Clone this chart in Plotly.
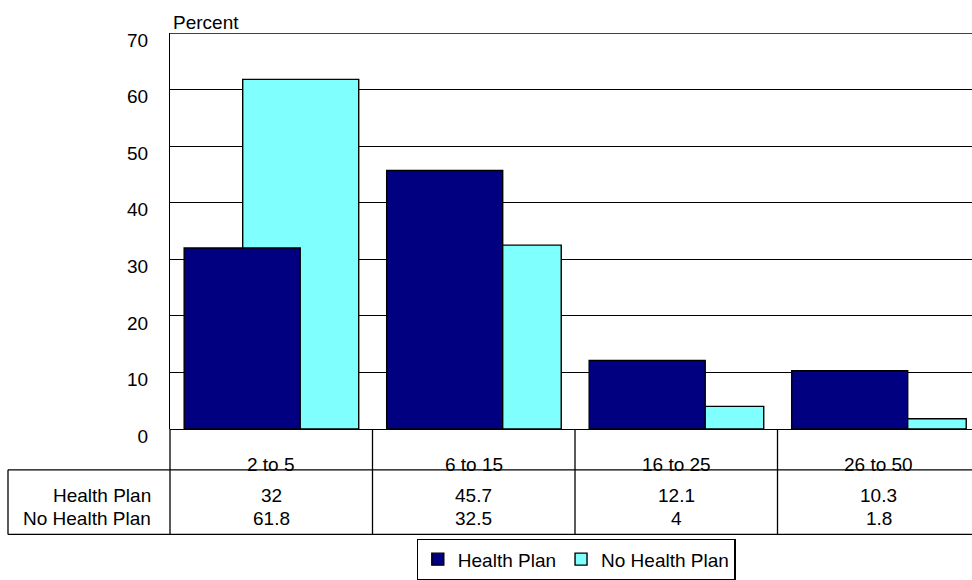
import plotly.graph_objects as go

# Data
categories = ["2 to 5", "6 to 15", "16 to 25", "26 to 50"]
health_plan = [32, 45.7, 12.1, 10.3]
no_health_plan = [61.8, 32.5, 4, 1.8]
series_names = ["Health Plan", "No Health Plan"]
y_ticks = [0, 10, 20, 30, 40, 50, 60, 70]

W, H = 972, 580
L, R, T, B = 170, 0, 33, 149          # plot area margins (px)
PW, PH = W - L - R, H - T - B
CAT_PX = 202.5                          # pixel width of one category
X_RANGE = [-0.5, -0.5 + PW / CAT_PX]

FONT = "Liberation Sans, Arial, sans-serif"
FS = 19
DARK = "#000080"
CYAN = "#80FFFF"

xs = list(range(len(categories)))


def py(p):
    """pixel row -> paper y"""
    return (H - B - p) / PH


def px(p):
    """pixel column -> paper x"""
    return (p - L) / PW


fig = go.Figure()

# back series first so the dark bars overlap it
fig.add_trace(go.Bar(
    x=xs, y=no_health_plan, name=series_names[1],
    width=0.573, offset=-0.141,
    marker=dict(color=CYAN, line=dict(color="black", width=1.4)),
    legendrank=2,
))
fig.add_trace(go.Bar(
    x=xs, y=health_plan, name=series_names[0],
    width=0.573, offset=-0.43,
    marker=dict(color=DARK, line=dict(color="black", width=1.4)),
    legendrank=1,
))

shapes = []
line = dict(color="black", width=1.3)
# top border of plot area
shapes.append(dict(type="line", xref="paper", yref="y", x0=0, x1=1, y0=70, y1=70, line=line))
# data-table grid
for yp in (472, 537):
    shapes.append(dict(type="line", xref="paper", yref="paper",
                       x0=px(8), x1=1, y0=py(yp), y1=py(yp), line=line))
shapes.append(dict(type="line", xref="paper", yref="paper",
                   x0=px(8), x1=px(8), y0=py(472), y1=py(537), line=line))
shapes.append(dict(type="line", xref="paper", yref="paper",
                   x0=0, x1=0, y0=0, y1=py(537), line=line))
for i in range(len(categories) - 1):
    shapes.append(dict(type="line", xref="x", yref="paper",
                       x0=i + 0.5, x1=i + 0.5, y0=0, y1=py(537), line=line))

annotations = []
font = dict(family=FONT, size=FS, color="black")
annotations.append(dict(text="Percent", xref="paper", yref="paper",
                        x=px(171), y=py(22), xanchor="left", yanchor="middle",
                        showarrow=False, font=font))
for i, cat in enumerate(categories):
    annotations.append(dict(text=cat, xref="x", yref="paper", x=i, y=py(467),
                            xanchor="center", yanchor="middle", showarrow=False, font=font))
    annotations.append(dict(text=f"{health_plan[i]:g}", xref="x", yref="paper", x=i, y=py(498),
                            xanchor="center", yanchor="middle", showarrow=False, font=font))
    annotations.append(dict(text=f"{no_health_plan[i]:g}", xref="x", yref="paper", x=i, y=py(521),
                            xanchor="center", yanchor="middle", showarrow=False, font=font))
for name, yp in zip(series_names, (498, 521)):
    annotations.append(dict(text=name, xref="paper", yref="paper", x=px(153), y=py(yp),
                            xanchor="right", yanchor="middle", showarrow=False, font=font))

fig.update_layout(
    width=W, height=H,
    margin=dict(l=L, r=R, t=T, b=B, pad=0),
    paper_bgcolor="white", plot_bgcolor="white",
    barmode="overlay",
    font=font,
    showlegend=True,
    legend=dict(
        orientation="h", x=px(576), y=py(542), xanchor="center", yanchor="top",
        bordercolor="black", borderwidth=1.3, bgcolor="white",
        font=dict(family=FONT, size=FS, color="black"),
        itemwidth=30, tracegroupgap=0,
    ),
    xaxis=dict(range=X_RANGE, showticklabels=False, showgrid=False, zeroline=False,
               showline=False, ticks=""),
    yaxis=dict(range=[0, 70], tickvals=y_ticks, showgrid=True, gridcolor="black", gridwidth=1,
               zeroline=True, zerolinecolor="black", zerolinewidth=1.3,
               showline=True, linecolor="black", linewidth=1.3,
               ticks="", ticklabelstandoff=17, ticklabelshift=7,
               tickfont=dict(family=FONT, size=FS, color="black")),
    shapes=shapes,
    annotations=annotations,
)

fig.write_html("out.html")
